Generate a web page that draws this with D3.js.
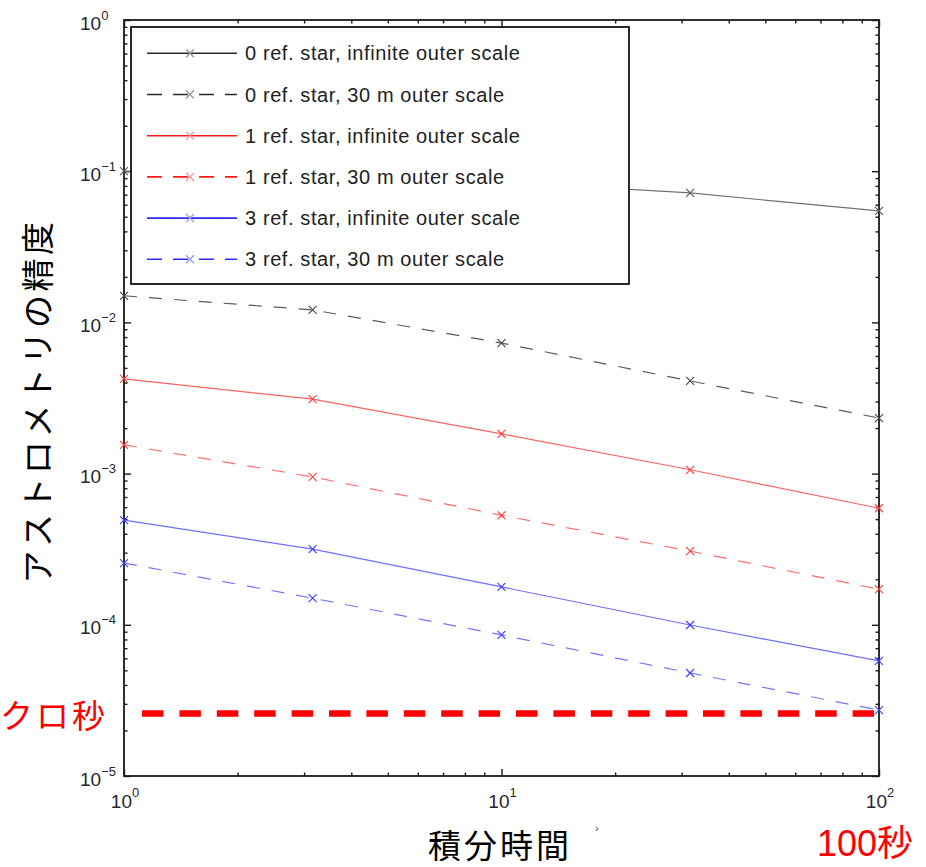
<!DOCTYPE html>
<html>
<head>
<meta charset="utf-8">
<script src="https://cdn.jsdelivr.net/npm/d3@7"></script>
<style>
  html, body { margin: 0; padding: 0; background: #fff; }
  svg { display: block; }
</style>
</head>
<body>
<svg id="chart" width="926" height="867"></svg>
<script>
// Integration times (s) at which the astrometric precision was evaluated
const times = [1, 3.16, 10, 31.6, 100];

// Astrometric precision (arcsec) per configuration
const refStar0Inf   = [0.100, 0.093, 0.085, 0.0718, 0.0546];
const refStar0Out30 = [0.0150, 0.0121, 0.0073, 0.0041, 0.00233];
const refStar1Inf   = [0.00423, 0.00311, 0.00183, 0.00106, 0.00059];
const refStar1Out30 = [0.00155, 0.00095, 0.00053, 0.000307, 0.000172];
const refStar3Inf   = [0.000493, 0.000317, 0.000178, 0.0000997, 0.0000577];
const refStar3Out30 = [0.000256, 0.000150, 0.0000857, 0.000048, 0.0000273];

const seriesLabels = [
  "0 ref. star, infinite outer scale",
  "0 ref. star, 30 m outer scale",
  "1 ref. star, infinite outer scale",
  "1 ref. star, 30 m outer scale",
  "3 ref. star, infinite outer scale",
  "3 ref. star, 30 m outer scale"
];

// Target level marked by the thick red dashed line
const targetLevel = 2.59e-5;
const targetSpan = [1.116, 100];

// Decade tick exponents
const xTickExponents = [0, 1, 2];
const yTickExponents = [-5, -4, -3, -2, -1, 0];

const xTitle = "積分時間";
const yTitle = "アストロメトリの精度";
const targetLabel = "クロ秒";
const endLabel = "100秒";

// ---- styles ----
const styles = [
  { plot: "#707070", mark: "#555555", legend: "#2a2a2a", legendMark: "#9a9a9a", dash: null },
  { plot: "#5a5a5a", mark: "#444444", legend: "#2a2a2a", legendMark: "#9a9a9a", dash: "13,12" },
  { plot: "#ff6464", mark: "#ff3a3a", legend: "#ff1a1a", legendMark: "#ff9a9a", dash: null },
  { plot: "#ff6e6e", mark: "#ff3a3a", legend: "#ff1a1a", legendMark: "#ff9a9a", dash: "13,12" },
  { plot: "#6e6eff", mark: "#3a3aff", legend: "#2a2aff", legendMark: "#9a9aff", dash: null },
  { plot: "#7474ff", mark: "#4040ff", legend: "#2a2aff", legendMark: "#9a9aff", dash: "13,12" }
];
const seriesValues = [refStar0Inf, refStar0Out30, refStar1Inf, refStar1Out30, refStar3Inf, refStar3Out30];

const svg = d3.select("#chart");
const plotLeft = 124, plotRight = 879, plotTop = 20, plotBottom = 776;

const x = d3.scaleLog().domain([1, 100]).range([plotLeft, plotRight]);
const y = d3.scaleLog().domain([1e-5, 1]).range([plotBottom, plotTop]);

const latin = "'Liberation Sans', Arial, Helvetica, sans-serif";
const cjk = "'Noto Sans CJK JP', 'Noto Sans CJK SC', sans-serif";

// minor tick values on log axes
function minorTicks(domain) {
  const out = [];
  const lo = Math.round(Math.log10(domain[0])), hi = Math.round(Math.log10(domain[1]));
  for (let e = lo; e < hi; e++) for (let m = 2; m <= 9; m++) out.push(m * Math.pow(10, e));
  return out;
}
const xMajor = xTickExponents.map(e => Math.pow(10, e));
const yMajor = yTickExponents.map(e => Math.pow(10, e));
const xMinor = minorTicks(x.domain());
const yMinor = minorTicks(y.domain());

const axesG = svg.append("g");
function addAxis(axisFn, scale, values, size, transform) {
  const g = axesG.append("g").attr("transform", transform)
    .call(axisFn(scale).tickValues(values).tickSize(size).tickFormat(""));
  g.select(".domain").remove();
  g.selectAll(".tick line").attr("stroke", "#1a1a1a").attr("stroke-width", 1.4);
}
addAxis(d3.axisBottom, x, xMajor, -7, `translate(0,${plotBottom})`);
addAxis(d3.axisBottom, x, xMinor, -3.5, `translate(0,${plotBottom})`);
addAxis(d3.axisTop, x, xMajor, -7, `translate(0,${plotTop})`);
addAxis(d3.axisTop, x, xMinor, -3.5, `translate(0,${plotTop})`);
addAxis(d3.axisLeft, y, yMajor, -7, `translate(${plotLeft},0)`);
addAxis(d3.axisLeft, y, yMinor, -3.5, `translate(${plotLeft},0)`);
addAxis(d3.axisRight, y, yMajor, -7, `translate(${plotRight},0)`);
addAxis(d3.axisRight, y, yMinor, -3.5, `translate(${plotRight},0)`);

// frame
axesG.append("rect")
  .attr("x", plotLeft).attr("y", plotTop)
  .attr("width", plotRight - plotLeft).attr("height", plotBottom - plotTop)
  .attr("fill", "none").attr("stroke", "#1a1a1a").attr("stroke-width", 1.8);

// tick labels: 10 with superscript exponent
const tickColor = "#262630";
xTickExponents.forEach(e => {
  const t = svg.append("text")
    .attr("x", x(Math.pow(10, e)) + 1).attr("y", plotBottom + 32)
    .attr("text-anchor", "middle")
    .attr("font-family", latin).attr("font-size", 19).attr("fill", tickColor);
  t.append("tspan").text("10");
  t.append("tspan").attr("dy", -11).attr("font-size", 13).text(String(e));
});
yTickExponents.forEach(e => {
  const t = svg.append("text")
    .attr("x", 80).attr("y", y(Math.pow(10, e)) + 9.5)
    .attr("text-anchor", "start")
    .attr("font-family", latin).attr("font-size", 19).attr("fill", tickColor);
  t.append("tspan").text("10");
  t.append("tspan").attr("dy", -10).attr("font-size", 13)
    .text(e < 0 ? "\u2212" + Math.abs(e) : String(e));
});

// data lines and x markers
const line = d3.line().x((d, i) => x(times[i])).y(d => y(d));
function crossPath(cx, cy, r) {
  return `M${cx - r},${cy - r}L${cx + r},${cy + r}M${cx - r},${cy + r}L${cx + r},${cy - r}`;
}
const dataG = svg.append("g");
seriesValues.forEach((vals, k) => {
  const st = styles[k];
  dataG.append("path")
    .attr("d", line(vals))
    .attr("fill", "none")
    .attr("stroke", st.plot)
    .attr("stroke-width", 1.2)
    .attr("stroke-dasharray", st.dash);
  dataG.selectAll(null).data(vals).enter().append("path")
    .attr("d", (d, i) => crossPath(x(times[i]), y(d), 4))
    .attr("stroke", st.mark).attr("stroke-width", 1.1).attr("fill", "none");
});

// legend
const lg = svg.append("g");
lg.append("rect")
  .attr("x", 131).attr("y", 27).attr("width", 498).attr("height", 257)
  .attr("fill", "#fff").attr("stroke", "#111").attr("stroke-width", 1.8);
seriesLabels.forEach((label, k) => {
  const st = styles[k];
  const cy = 53.3 + k * 41.2;
  lg.append("line")
    .attr("x1", 147).attr("x2", 237).attr("y1", cy).attr("y2", cy)
    .attr("stroke", st.legend).attr("stroke-width", 1.6)
    .attr("stroke-dasharray", st.dash ? "15,11" : null);
  lg.append("path").attr("d", crossPath(190, cy, 4))
    .attr("stroke", st.legendMark).attr("stroke-width", 1.4).attr("fill", "none");
  lg.append("text")
    .attr("x", 245).attr("y", cy + 7)
    .attr("font-family", latin).attr("font-size", 20)
    .attr("letter-spacing", 0.6)
    .attr("fill", "#222")
    .text(label);
});

// target level line
svg.append("line")
  .attr("x1", x(targetSpan[0])).attr("x2", x(targetSpan[1]))
  .attr("y1", y(targetLevel)).attr("y2", y(targetLevel))
  .attr("stroke", "#ff0000").attr("stroke-width", 6.5)
  .attr("stroke-dasharray", "21.5,15.9");

// titles and annotations
svg.append("text")
  .attr("x", 500).attr("y", 858)
  .attr("text-anchor", "middle")
  .attr("font-family", cjk).attr("font-size", 33).attr("letter-spacing", 3)
  .attr("fill", "#000").text(xTitle);

svg.append("text")
  .attr("transform", "translate(50,401) rotate(-90)")
  .attr("text-anchor", "middle")
  .attr("font-family", cjk).attr("font-size", 33).attr("letter-spacing", 3.5)
  .attr("fill", "#000").text(yTitle);

svg.append("text")
  .attr("x", 0).attr("y", 728)
  .attr("font-family", cjk).attr("font-size", 33).attr("letter-spacing", 3)
  .attr("fill", "#ff0000").text(targetLabel);

svg.append("text")
  .attr("x", 817).attr("y", 856)
  .attr("font-family", latin + ", " + cjk).attr("font-size", 36)
  .attr("fill", "#ff0000").text(endLabel);

svg.append("text")
  .attr("x", 595).attr("y", 832)
  .attr("font-family", latin).attr("font-size", 11)
  .attr("fill", "#2a3a8a").text("›");
</script>
</body>
</html>
